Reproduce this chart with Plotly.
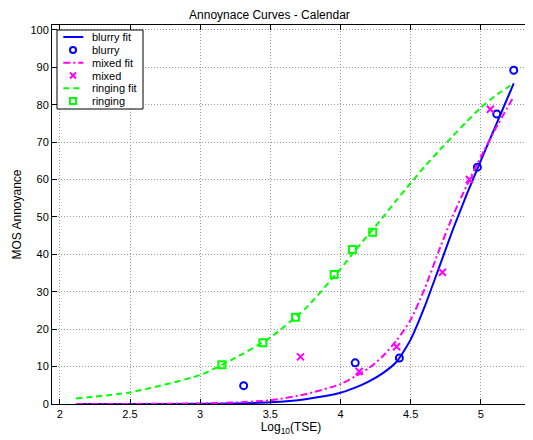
import plotly.graph_objects as go

# ---- data ----
blurry_x = [3.31, 4.105, 4.42, 4.976, 5.114, 5.235]
blurry_y = [4.9, 11.0, 12.3, 63.3, 77.5, 89.2]

mixed_x = [3.715, 4.133, 4.40, 4.727, 4.919, 5.068]
mixed_y = [12.6, 8.7, 15.3, 35.2, 60.0, 78.8]

ringing_x = [3.155, 3.447, 3.68, 3.955, 4.085, 4.23]
ringing_y = [10.5, 16.4, 23.2, 34.6, 41.3, 45.9]

fit_x = [2.115, 2.5, 3.0, 3.25, 3.5, 3.75, 4.0, 4.1, 4.2, 4.3, 4.4, 4.5,
         4.6, 4.7, 4.8, 4.9, 5.0, 5.1, 5.235]
blurry_fit_y = [0.0, 0.0, 0.05, 0.15, 0.45, 1.3, 3.0, 4.3, 6.0, 8.2, 11.3, 17.2,
                26.0, 36.2, 46.5, 56.0, 65.0, 73.8, 85.7]
mixed_fit_y = [0.0, 0.02, 0.15, 0.4, 1.0, 2.6, 5.3, 7.3, 9.5, 12.7, 17.0, 22.5,
               30.8, 40.8, 50.2, 58.4, 66.0, 73.2, 82.2]
ringing_fit_y = [1.5, 3.1, 7.75, 12.3, 17.8, 25.5, 36.1, 40.8, 45.3, 49.8, 54.5, 59.0,
                 63.5, 67.6, 71.6, 75.5, 79.2, 82.3, 85.7]

x_ticks = [2, 2.5, 3, 3.5, 4, 4.5, 5]
x_tick_labels = ["2", "2.5", "3", "3.5", "4", "4.5", "5"]
y_ticks = [0, 10, 20, 30, 40, 50, 60, 70, 80, 90, 100]

legend_labels = ["blurry fit", "blurry", "mixed fit", "mixed", "ringing fit", "ringing"]

BLUE = "#0000FF"
MAGENTA = "#FF00FF"
GREEN = "#00FF00"
FONT = "Liberation Sans, Arial, sans-serif"

fig = go.Figure()
fig.add_trace(go.Scatter(x=fit_x, y=blurry_fit_y, mode="lines", name=legend_labels[0],
                         line=dict(color=BLUE, width=2, shape="spline", smoothing=0.6)))
fig.add_trace(go.Scatter(x=blurry_x, y=blurry_y, mode="markers", name=legend_labels[1],
                         marker=dict(symbol="circle-open", color=BLUE, size=7,
                                     line=dict(width=2, color=BLUE))))
fig.add_trace(go.Scatter(x=fit_x, y=mixed_fit_y, mode="lines", name=legend_labels[2],
                         line=dict(color=MAGENTA, width=2, dash="7px,3px,2px,3px",
                                   shape="spline", smoothing=0.6)))
fig.add_trace(go.Scatter(x=mixed_x, y=mixed_y, mode="markers", name=legend_labels[3],
                         marker=dict(symbol="x-thin-open", color=MAGENTA, size=7,
                                     line=dict(width=2, color=MAGENTA))))
fig.add_trace(go.Scatter(x=fit_x, y=ringing_fit_y, mode="lines", name=legend_labels[4],
                         line=dict(color=GREEN, width=2, dash="6px,4px",
                                   shape="spline", smoothing=0.6)))
fig.add_trace(go.Scatter(x=ringing_x, y=ringing_y, mode="markers", name=legend_labels[5],
                         marker=dict(symbol="square-open", color=GREEN, size=7,
                                     line=dict(width=2, color=GREEN))))

# ---- compact MATLAB-style legend drawn in paper coordinates ----
PLOT_W, PLOT_H = 478.0, 379.0          # plot-area size in px
def px_x(dx):
    return dx / PLOT_W
def px_y(dy):
    return dy / PLOT_H

shapes = []
annotations = []
# legend box
shapes.append(dict(type="rect", xref="paper", yref="paper",
                   x0=px_x(5), x1=px_x(91), y0=1 - px_y(84), y1=1 - px_y(5),
                   line=dict(color="black", width=1), fillcolor="white", layer="above"))
item_y = [1 - px_y(d) for d in (12, 25, 37.8, 50.5, 63.2, 76)]
line_x0, line_x1, mark_x, text_x = px_x(11.3), px_x(31.3), px_x(21), px_x(38)
rx, ry = px_x(3), px_y(3)

# blurry fit
shapes.append(dict(type="line", xref="paper", yref="paper", x0=line_x0, x1=line_x1,
                   y0=item_y[0], y1=item_y[0], line=dict(color=BLUE, width=2), layer="above"))
# blurry marker
shapes.append(dict(type="circle", xref="paper", yref="paper", x0=mark_x - rx, x1=mark_x + rx,
                   y0=item_y[1] - ry, y1=item_y[1] + ry, line=dict(color=BLUE, width=2), layer="above"))
# mixed fit
shapes.append(dict(type="line", xref="paper", yref="paper", x0=line_x0, x1=line_x1,
                   y0=item_y[2], y1=item_y[2], line=dict(color=MAGENTA, width=2, dash="7px,3px,2px,3px"),
                   layer="above"))
# mixed marker (x)
shapes.append(dict(type="line", xref="paper", yref="paper", x0=mark_x - rx, x1=mark_x + rx,
                   y0=item_y[3] - ry, y1=item_y[3] + ry, line=dict(color=MAGENTA, width=2), layer="above"))
shapes.append(dict(type="line", xref="paper", yref="paper", x0=mark_x - rx, x1=mark_x + rx,
                   y0=item_y[3] + ry, y1=item_y[3] - ry, line=dict(color=MAGENTA, width=2), layer="above"))
# ringing fit
shapes.append(dict(type="line", xref="paper", yref="paper", x0=line_x0, x1=line_x1,
                   y0=item_y[4], y1=item_y[4], line=dict(color=GREEN, width=2, dash="6px,4px"),
                   layer="above"))
# ringing marker
shapes.append(dict(type="rect", xref="paper", yref="paper", x0=mark_x - rx, x1=mark_x + rx,
                   y0=item_y[5] - ry, y1=item_y[5] + ry, line=dict(color=GREEN, width=2), layer="above"))

for lbl, yy in zip(legend_labels, item_y):
    annotations.append(dict(text=lbl, xref="paper", yref="paper", x=text_x, y=yy,
                            xanchor="left", yanchor="middle", showarrow=False,
                            font=dict(family=FONT, size=11, color="black")))

axis_common = dict(showline=True, linecolor="black", linewidth=1, mirror="ticks",
                   ticks="inside", ticklen=5, tickcolor="black",
                   showgrid=True, gridcolor="#9a9a9a", griddash="1px,2px", gridwidth=1,
                   zeroline=False, tickfont=dict(family=FONT, size=11, color="black"))

fig.update_xaxes(range=[1.944, 5.351], tickvals=x_ticks, ticktext=x_tick_labels,
                 title=dict(text="Log<sub>10</sub>(TSE)", font=dict(family=FONT, size=12, color="black"),
                            standoff=2),
                 **axis_common)
fig.update_yaxes(range=[0, 101.3], tickvals=y_ticks,
                 title=dict(text="MOS Annoyance", font=dict(family=FONT, size=12, color="black"),
                            standoff=6),
                 **axis_common)

fig.update_layout(
    width=525, height=432,
    margin=dict(l=44, r=3, t=17, b=36),
    paper_bgcolor="white", plot_bgcolor="white",
    title=dict(text="Annoynace Curves - Calendar", x=0.498, xanchor="center",
               y=1.0, yanchor="top", pad=dict(t=3, b=0, l=0, r=0),
               font=dict(family=FONT, size=12, color="black")),
    showlegend=False,
    shapes=shapes,
    annotations=annotations,
)

fig.write_html("out.html")
